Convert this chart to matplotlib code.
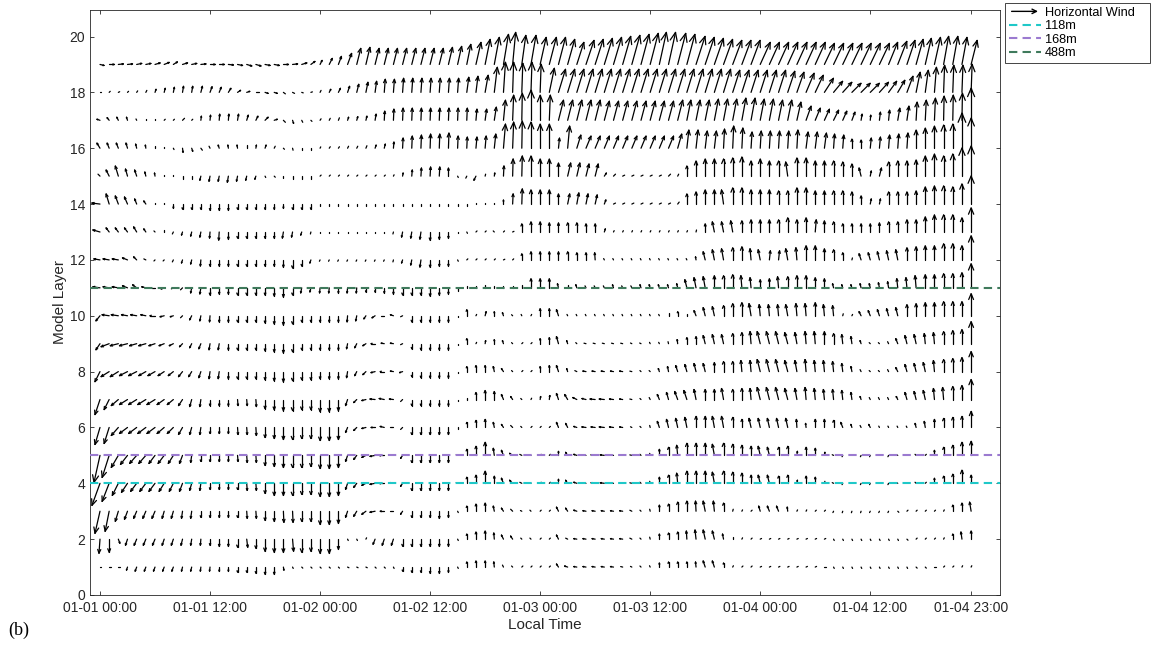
import numpy as np
import matplotlib
matplotlib.use("Agg")
import matplotlib.pyplot as plt
from matplotlib.legend_handler import HandlerBase
from matplotlib.patches import FancyArrowPatch
from matplotlib.lines import Line2D
from matplotlib.collections import LineCollection
from matplotlib.transforms import IdentityTransform

plt.rcParams['font.family'] = ['Liberation Sans', 'DejaVu Sans']

hours = np.arange(96)            # hourly steps from 01-01 00:00
layers = np.arange(1, 20)        # model layers 1..19
tick_hours = [0, 12, 24, 36, 48, 60, 72, 84, 95]
tick_labels = ['01-01 00:00', '01-01 12:00', '01-02 00:00', '01-02 12:00',
               '01-03 00:00', '01-03 12:00', '01-04 00:00', '01-04 12:00',
               '01-04 23:00']
level_names = ['118m', '168m', '488m']
level_layers = [4, 5, 11]
level_colors = ['#1fc8c8', '#9b7ad0', '#3f7a5c']

# horizontal wind (east u, north v) per layer
u_wind = [
    # layer 1
    [0.5, 1, 2, -1, -1.5, -1.5, -1.5, -1.5, -1.5, -1, -1, -0.5, -0.5, 0, 0, 0, 0, 0, 0, 0, 0.5, 0.5, 0.5, 0.5,
     0.5, 0.5, 0.5, 1, 1, 1, 1, 1, 0.5, 0, 0, 0, 0, 0, 0, 0.5, 0, 0, 0, -0.5, -1, -1, 0.5, 0.5,
     0.5, 0.5, -2, -3, -3, -3, -3, -3, -3, -2, -1, -0.5, -0.5, 0, 0, 0, 0, -0.5, -2, -2, 0, 0.5, 0.5, 0.5,
     1, 1, 1, 1, 1, 1, 1, 1, 0.5, 0.5, 0.5, 0.5, 0.5, 0.5, 0.5, 0.5, 0.5, 0.5, 0.5, 0.5, 0.5, 0.5, 0.5, 0.5],
    # layer 2
    [-1, 0, 1.5, -2, -2.5, -2.5, -2.5, -2, -2, -1.5, -1, -0.5, 0, 0, 0, 0, 1, 0, 0, 0, 0, 1, 0, 0,
     0, 0, 0, 0.5, 0.5, 0.5, -2, -2, -2, 0, 0, 0, 0, 0, 0, 0.5, 0, 0, 0, -0.5, -2, -2, -1, -0.5,
     0.5, 0.5, -2, -2, -3, -3, -3, -3, -3, -3, -2, -1, -0.5, 0, 0, 0, -0.5, -1, -2, -2, -1, 0, 0.5, 0.5,
     1, 1, 1, 1, 1, 1, 1, 1, 0.5, 0.5, 0.5, 0.5, 0.5, 0.5, 0.5, 0.5, 0.5, 0.5, 0.5, 0.5, 0.5, 0, -1, 0],
    # layer 3
    [-5, -4, -3, -3, -3, -3, -3, -2, -2, -1, -1, 0, 0, 0, 0, 0, 0.5, 0.5, 0, 0, 0.5, 0.5, 0, 0,
     0, 0, 0, -2, -3, -4, -5, -4, -3, -2, 0, 0, 0, 0, 0, 0.5, 0, 0, 0, -1, -2, -2, -1, -0.5,
     0.5, 0.5, -2, -2, -3, -3, -3, -3, -3, -3, -2, -1, -0.5, 0, 0, 0, 0, -0.5, -2, -1, 0, 0.5, 0.5, 0.5,
     -1.5, -2, -2, -0.5, 0.5, 0.5, 0.5, 0.5, -0.5, -0.5, -0.5, -0.5, -0.5, -0.5, -0.5, 0.5, 0.5, 0.5, 0.5, 0.5, 0.5, 0, 0, -1.5],
    # layer 4
    [-8, -7, -6, -6, -6, -6, -6, -5, -4, -3, -2, -1, 0, 0, 0, 0, 0.5, 0.5, 0, 0, 0, 0, 0, 0,
     0, 0, 0, -2, -3, -4, -5, -5, -4, -2, 0, 0, 0, 0, 0, -1, 0, 0, 0, 0, -2, -3, -2, -1,
     0.5, 0.5, 0, -2, -3, -3, -4, -4, -3, -3, -2, -1, -0.5, 0, 0, -1, 0, 0, 0, -2, 0, 0, 0, 0,
     -2, -2, 0, 0, 0.5, 0, 0, 0.5, -1, -0.5, -1, -0.5, -0.5, -1, -0.5, -1, -1, -0.5, 0.5, 0, 0, 0, 0, 0],
    # layer 5
    [-6, -7, -7, -7, -7, -7, -6, -6, -5, -3, -1, 0, 0, 0, 0, 0.5, 0.5, 0.5, 0, 0, 0, 0, 0, 0,
     0, 0, 0, -2, -3, -4, -5, -5, -4, -2, 0, 0, 0, 0, 0, -1, 0, 0, 0, -1, -2, -3, -2, -1,
     0.5, 0.5, 0, -2, -3, -3, -4, -4, -3, -3, -2, -1, -0.5, 0, 0, -1, 0, 0, 0, -2, 0, 0, 0, 0,
     -2, -2, 0, 0, 0.5, 0, 0, 0.5, -1, -0.5, -1, -0.5, -0.5, -1, -0.5, -1, -1, -0.5, 0.5, 0, 0, 0, 0, 0],
    # layer 6
    [-5, -5, -7, -8, -8, -8, -8, -7, -6, -4, -2, -1, 0, 0, 0, 0.5, 0.5, 0.5, 0, 0, 0, 0, 0, 0,
     0, 0, 0, -2, -3, -4, -4, -4, -3, -2, 0, 0, 0, 0, 0, 0, 0, 0, 0, -1, -2, -2, -1, 0.5,
     0.5, 0.5, -2, -2, -3, -4, -4, -5, -4, -3, -1, -1, -0.5, -2, -2, -2, -2, 0, 0, -2, -2, 0, 0, -2,
     -2, -2, -2, -2, -0.5, -0.5, 0, 0, 0, -2, -1, -1, -1.5, -0.5, -0.5, -0.5, -0.5, -1, -1, 0, 0, 0, 0, 0],
    # layer 7
    [-5, -5, -7, -8, -8, -8, -8, -7, -6, -4, -2, -1, 0, 0, 0, 0.5, 0.5, 0.5, 0, 0, 0, 0, 0, 0,
     0, 0, 0, -2, -3, -4, -5, -5, -4, -2, 0, 0, 0, 0, 0, 0, 0, 0, 0, 0, -2, -2, -1, 0.5,
     0.5, 0.5, -2, -3, -4, -4, -5, -5, -4, -3, -2, -1, -1, -2, -2, -3, -3, -2, 0, 0, -2, 0, 0, -1,
     -3, -3, -3, -3, -2, -1, -1, -1, -1, -1, -1, -1, -1, -1, -1, -1.5, -2, -2, -2, -1, -1, 0, 0, 0],
    # layer 8
    [-5, -8, -8, -8, -8, -7, -7, -6, -5, -4, -3, -2, -1, -1, 0, 0, 0, 0, 0, 0, 0, 0, 0, 0,
     0, 0, 0, -1, -2, -3, -4, -4, -3, -3, 0, 0, 0, 0, 0, 0, 0, 0, 0, -1, -2, -1, 0.5, 0.5,
     0, 0, -2, -1, -2, -3, -3, -3, -3, -3, -2, -1, -1, -1, -1, -2, -2, -2, -2, 0, 0, 0, -1, -1,
     -3, -3, -3, -3, -2, -1, -1, -1, -1, -1, -1, -1, -1, -1, -1, -2, -2, -2, -2, -1, 0, 0, 0, 0],
    # layer 9
    [-4, -8, -8, -8, -7, -7, -6, -5, -4, -3, -2, -2, -1, -1, 0, 0, 0, 0, 0, 0, 0, 0, 0, 0,
     0, 0, 0, -1, -2, -3, -4, -3, -3, -2, 0, 0, 0, 0, 0, 0, 0, 0.5, 0.5, 0, -1, -1, 0.5, 0.5,
     0, 0, -2, -1, -1, -2, -2, -2, -2, -2, -1, -1, -0.5, -0.5, -0.5, -0.5, 0, 0, -2, -2, -2, 0, 0, -1,
     -3, -3, -3, -3, -2, -1, -1, 0, 0, -1, -1, -1, -1, -1, -1, -2, -2, -2, -1, -1, 0, 0, 0, 0],
    # layer 10
    [-4, -7, -7, -6, -6, -5, -5, -4, -3, -2, -2, -1, -0.5, 0, 0, 0, 0, 0, 0, 0, 0, 0, 0, 0,
     0, 0, 0, -0.5, -1, -2, -3, -3, -3, -2, 0, 0, 0, 0, 0, 0, 0, 0.5, 1, 0, -1, -1, -0.5, 0.5,
     0, 0, -2, -0.5, -0.5, -0.5, -0.5, -0.5, -0.5, -0.5, -0.5, -0.5, -0.5, -0.5, 0, 0, 0, -2, -2, -2, 0, 0, 0, -2,
     -1, -1, -1, -2, -1, -1, 0, -1, -1, 0.5, 0.5, -2, -2, -2, -2, -2, 0, 0, 0, 0, 0, 0, 0, 0],
    # layer 11
    [-7, -6, -6, -5, -4, -4, -3, -3, -2, -2, -1, -1, 0, 0, 0, 0, 0, 0, 0, 0, 0, 0, -1, -1,
     -0.5, -0.5, 0, -0.5, -0.5, 0, 0, 0, 0, 0, 0, 0, 0, 0, 0, 0, 0, 0, 0, 0, 0, 0, 0, 0,
     0, 0, -1, 0, -1, -1, -1, -1, -1, -1, -1, -1, -1, -1, -1, -1, -2, -2, -2, 0, 0, 0, -1, -1,
     0, 0, -1, 0, 0, 0, 0, 0, -1, -1, -1, -1, -1, -1, -1, -1, -1, -1, 0, 0, 0, 0, 0, 0],
    # layer 12
    [-6, -6, -6, -5, -3, -2, -1, -1, -1, -1, -1, -0.5, 0, 0, 0, 0, 0, 0, 0, 0, 0, 0, 0, -1,
     -0.5, -0.5, -0.5, -0.5, -0.5, -0.5, -0.5, -0.5, -0.5, -1, -1, -1, 0, 0, 0, 0.5, 0.5, 0.5, 0.5, 0.5, 1, 0.5, 0, 0,
     0, 0, 0, 0, 0, 0, -0.5, -0.5, -0.5, -0.5, -0.5, -0.5, -0.5, -0.5, -0.5, -0.5, -0.5, -0.5, -2, -2, -2, 0, 0, -1,
     -2, 1, 1, -2, -1, 0, 0, 0, 0, 0, 0.5, -2, -2, -2, -2, -2, 0, 0, 0, 0, 0, 0, 0, 0],
    # layer 13
    [-7, -3, -3, -3, -3, -2, -1, 0, -1, -1, -1, -1, -0.5, -0.5, 0, 0, 0, 0, 0, 0, -1, -1, -1, -0.5,
     0, 0, 0, 0, 0, 0, 0, 0, -0.5, -1, -1, -1, 0, 0, 0, 0, 0.5, 0.5, 0.5, -1, 0.5, 1, 0, 0,
     0, 0, 0, 0, 0, 0, 0, 1, 0.5, 0.5, 0.5, 0.5, 0.5, 0.5, 0.5, 0.5, 0.5, 0.5, 0, -2, -2, -2, 0, 0,
     0, 0, 0, 0, 0, 0, 1, 0, 0, 0, 0, 0, 0, 0, 0, 0, 0, 0, 0, 0, 0, 0, 0, 0],
    # layer 14
    [-8, -3, -3, -3, -2, -2, 0, 0, 0, 0, 0, 0, 0, 0, 0, 0, 0, 0, 0, 0, 0, 0, 0, 0,
     0, 0, 0, 0, 0, 0, 0, 0, 0, 0, 0, 0, 0, 0, 0, 0, 0, 0, 0, 0, 0, 0.5, 0.5, 0,
     0, 0, 0, 2, 2, 2, 2, 1.5, 2, 2, 2, 2, 2, 2, 2, 1.5, 0, 0, 0, 0, -2, 0, 0, 0,
     0, 0, 0, 0, 0, 0, 0, 0, 0, 0, 0, 0, 1, 1, 0, 0, 0, 0, 0, 0, 0, 0, 0, 0],
    # layer 15
    [-2, -3, -3, -2, -2, -1, -0.5, 0, 0, 0, 0, -1, -1, -1, -1, -1, -1, -1, 0.5, 0.5, 0, 0, 0, 0,
     0.5, 0.5, 0.5, 0.5, 0.5, 0.5, 0.5, 0.5, 0.5, 0.5, 0.5, 0.5, 0.5, 0.5, 0, 0.5, -1, -2, 0.5, 0.5, 0.5, 0.5, 0.5, 0,
     0, 0, 0, 3, 3, 3, 3, 2, 2, 2, 2, 2, 2, 2, 2, 1, 0, 0, 0, 0, 0, 0, 0, 0,
     0, 0, 0, -2, 0, 0, 0, 0, 0, 0, 0, -2, 1, 2, 0, 0, 0, 0, 0, 0, 0, 0, 0, 0],
    # layer 16
    [-3, -2, -2, -1.5, -1, -0.5, 0, 0, 0.5, 0.5, 1, 1.5, -1, -1, -0.5, -0.5, 0, 0.5, 1, 1, 1, 0.5, 0, 0,
     0.5, 1, 1, 1, 1, 1, 1, 1, 0.5, 0.5, 0.5, 0.5, 0.5, 0.5, 0.5, 0.5, 0.5, 1, 1, 1.5, 2, 1, 0.5, 0,
     0, 0, 1, 2, 4, 5, 5, 5, 5, 5, 5, 5, 5, 5, 5, 4, 2, 2, 2, 2, 1, 1, 1, 1,
     1, 1, 1, 1, 1, 2, 2, 2, 1, 1, 0, 0, 1, 1, 1, 1, 1, 0, 0, 0, 0, 0, 0, 0],
    # layer 17
    [-3, -2, -1.5, -1, -0.5, 0, 0, 0.5, 1, 2, 1, 0.5, 0.5, 0.5, 0.5, 1, 1.5, 2, 3, 3, 2, 1, 1, 1,
     1, 1, 1, 1, 1, 1, 1, 0.5, 0.5, 0.5, 0.5, 0.5, 0.5, 0.5, 0.5, 0.5, 0.5, 1, 1.5, 2, 2, 1, 0.5, 0,
     0, 1, 5, 5, 5, 5, 5, 5, 5, 5, 5, 5, 5, 5, 5, 5, 4, 4, 4, 4, 4, 4, 4, 4,
     4, 4, 4, 4, 4, 5, 5, 5, 5, 4, 3, 1, 0.5, 1, 1, 2, 2, 1, 1, 1, 0.5, 0.5, 0.5, 0],
    # layer 18
    [1, 0.5, 1, 1, 1, 1, 1, 1, 1, 1, 1, 1.5, 2, 2, 2.5, 3, 3, 3, 3, 3, 2, 2, 1.5, 1.5,
     1, 1.5, 2, 2, 2, 2, 1.5, 1, 1, 1, 1, 1, 1, 1, 1, 1, 2, 2, 3, 3, 2, 1, 1, 1,
     1, 5, 7, 7, 7, 7, 7, 7, 7, 7, 7, 7, 7, 7, 7, 7, 7, 7, 7, 7, 7, 7, 7, 7,
     7, 7, 7, 7, 7, 8, 8, 9, 9, 9, 9, 9, 9, 9, 8, 7, 6, 4, 3, 2, 1, 1, 1, 1],
    # layer 19
    [4, 5, 5, 5, 5, 5, 5, 5, 4, 5, 5, 5, 5, 5, 5, 5, 5, 5, 5, 5, 5, 5, 5, 4,
     2, 3, 3, 4, 4, 4, 4, 4, 4, 4, 4, 4, 4, 4, 4, 4, 4, 5, 5, 5, 5, 3, 4, 5,
     6, 7, 7, 7, 7, 8, 8, 8, 8, 8, 8, 8, 8, 7, 7, 8, 8, 9, 9, 9, 9, 9, 9, 9,
     10, 10, 10, 10, 10, 10, 10, 10, 10, 10, 10, 10, 10, 10, 9, 9, 8, 7, 6, 6, 5, 5, 5, 6],
]

v_wind = [
    # layer 1
    [0, 0, 0, -3, -4, -4, -4, -4, -4, -4, -4, -4, -4, -4, -4, -5, -5, -6, -7, -7, -3, -1, -0.5, -0.5,
     -0.5, -0.5, -0.5, -0.5, -0.5, -0.5, -1, -1, -1, -4, -5, -5, -6, -6, -5, -1, 5, 6, 6, 5, 2, 1, 0.5, 0.5,
     0.5, 0.5, 3, 1, 0.5, 0.5, 0.5, 0.5, 0.5, 0.5, 0.5, 0.5, 1, 4, 5, 5, 5, 5, 6, 6, 4, 1, 0.5, 0.5,
     0.5, 0.5, 0.5, 0.5, 0.5, 0.5, 0.5, 0, -1, -1, -1, -1, -1, -1, -1, -1, -1, -0.5, -0.5, 0, 0.5, 0.5, 1, 1],
    # layer 2
    [-14, -13, -4, -6, -6, -6, -6, -6, -6, -6, -6, -6, -6, -7, -7, -8, -8, -9, -12, -13, -13, -12, -13, -12,
     -14, -14, -10, -1, -1, 1, -5, -6, -6, -7, -7, -7, -7, -7, -7, -1, 5, 7, 8, 6, 4, 3, 1, 0.5,
     0.5, 0.5, 4, 1, 0.5, 0.5, 0.5, 0.5, 0.5, 0.5, 1, 1, 2, 5, 6, 7, 8, 9, 9, 8, 5, 2, 1, 0.5,
     0.5, 0.5, 0.5, 0.5, 0.5, 0.5, 0.5, 0.5, -1, -1, -1, -1, -1, -1, -1, -1, -0.5, 0.5, 0.5, 0.5, 1, 5, 7, 8],
    # layer 3
    [-22, -20, -10, -8, -7, -7, -7, -7, -7, -7, -7, -6, -6, -6, -6, -6, -7, -7, -9, -10, -11, -11, -10, -10,
     -13, -13, -12, -6, -5, -3, -1, 0, 0, -3, -6, -6, -6, -7, -6, -1, 5, 7, 8, 5, 3, 2, 0.5, 0.5,
     0.5, 0.5, 4, 3, 1, 0.5, 0.5, 0.5, 0.5, 0.5, 1, 1, 2, 6, 7, 9, 10, 10, 10, 10, 8, 2, 1, 0.5,
     5, 5, 5, 4, 1, 1, 0.5, 0.5, -1, -1.5, -1.5, -1.5, -1, -1, -1, -0.5, 0.5, 0.5, 0.5, 0.5, 1, 6, 8, 9],
    # layer 4
    [-22, -18, -12, -9, -8, -8, -8, -8, -8, -8, -7, -7, -6, -6, -6, -6, -7, -7, -10, -12, -12, -12, -11, -11,
     -13, -13, -12, -6, -4, -2, -1, 0, 0.5, -3, -7, -7, -7, -7, -7, 0.5, 6, 8, 12, 7, 5, 3, 1, 0.5,
     0.5, 0.5, 4, 3, 1, 0.5, 0.5, 0.5, 0.5, 0.5, 0.5, 1, 2, 6, 8, 10, 12, 12, 12, 11, 12, 11, 10, 8,
     8, 8, 7, 8, 3, 7, 6, 2, 0.5, -1, 0.5, -1, -1, 0.5, -1, 0.5, 0.5, 0.5, 0.5, 5, 7, 9, 13, 8],
    # layer 5
    [-27, -22, -12, -9, -8, -8, -8, -8, -8, -8, -7, -6, -6, -6, -6, -6, -7, -7, -10, -11, -12, -12, -12, -11,
     -13, -13, -12, -6, -4, -2, -1, 0, 0.5, -3, -7, -7, -7, -7, -7, 0.5, 6, 9, 13, 7, 5, 2, 1, 0.5,
     0.5, 0.5, 4, 3, 1, 0.5, 0.5, 0.5, 0.5, 0.5, 0.5, 1, 2, 6, 8, 10, 12, 12, 12, 11, 12, 11, 10, 9,
     9, 8, 8, 9, 4, 8, 7, 3, 0.5, -1, 0.5, -1, -1, 0.5, -1, 0.5, 0.5, 0.5, 0.5, 5, 8, 10, 13, 14],
    # layer 6
    [-17, -16, -8, -6, -6, -6, -6, -6, -6, -7, -7, -7, -6, -6, -6, -7, -7, -8, -10, -11, -12, -12, -11, -11,
     -13, -13, -12, -5, -3, -1, 0, 1, 0, -2, -7, -7, -7, -7, -7, -1, 5, 7, 8, 5, 3, 2, 1, 0.5,
     0.5, 0.5, 5, 4, 1, 0.5, 0.5, 0.5, 0.5, 0.5, 0.5, 1, 2, 6, 8, 9, 10, 11, 11, 11, 11, 10, 8, 9,
     9, 9, 9, 9, 8, 4, 8, 8, 7, 5, 3, 2, 3, 1, 1, 1, 1, 4, 6, 8, 9, 10, 11, 16],
    # layer 7
    [-15, -10, -6, -5, -5, -5, -5, -5, -5, -6, -7, -7, -6, -6, -6, -6, -6, -7, -9, -10, -11, -11, -10, -10,
     -12, -12, -11, -6, -3, -1, 0.5, 1, 0.5, -2, -6, -6, -6, -6, -6, -1, 2, 7, 9, 8, 5, 3, 1, 1,
     3, 4, 6, 5, 2, 1, 0.5, 0.5, 0.5, 0.5, 0.5, 1, 2, 5, 7, 8, 9, 10, 10, 10, 11, 10, 11, 11,
     12, 12, 12, 11, 11, 12, 11, 10, 10, 9, 7, 3, 2, 2, 2, 3, 7, 8, 9, 11, 12, 13, 14, 20],
    # layer 8
    [-10, -5, -5, -4, -4, -4, -4, -4, -4, -5, -5, -6, -7, -7, -7, -7, -7, -7, -8, -9, -10, -9, -8, -8,
     -7, -7, -7, -6, -4, -3, -1, 0, 0.5, -1, -5, -6, -6, -6, -6, -1, 5, 6, 6, 5, 3, 1, 0.5, 0.5,
     5, 6, 6, 3, 1, 0.5, 0.5, 0.5, 0.5, 0.5, 0.5, 1, 1, 3, 5, 6, 7, 8, 8, 9, 10, 10, 11, 11,
     12, 12, 12, 11, 11, 12, 11, 11, 10, 8, 5, 2, 1, 1, 2, 4, 7, 8, 9, 11, 12, 13, 14, 20],
    # layer 9
    [-6, -3, -2, -2, -2, -2, -2, -2, -2, -3, -4, -5, -6, -6, -6, -6, -6, -6, -7, -8, -9, -8, -6, -6,
     -6, -6, -6, -5, -4, -2, 0, 0.5, 0.5, -1, -5, -6, -6, -6, -6, -1, 5, 1, 3, 4, 3, 1, 0.5, 0.5,
     5, 6, 7, 3, 1, 0.5, 0.5, 0.5, 0.5, 0.5, 0.5, 0.5, 1, 1, 2, 4, 6, 7, 8, 9, 9, 10, 11, 12,
     12, 12, 12, 11, 11, 12, 12, 12, 10, 9, 7, 3, 1, 1, 2, 5, 8, 9, 10, 11, 12, 13, 14, 22],
    # layer 10
    [-5, 1, 1, 1, 1, 1, 0, -1, -1, -2, -4, -5, -6, -6, -6, -6, -6, -6, -7, -8, -9, -8, -6, -6,
     -6, -6, -6, -6, -5, -3, -2, 0, 1, -1, -6, -6, -6, -6, -6, -1, 6, 1, 4, 4, 3, 1, 1, 1,
     7, 7, 6, 1, 1, 1, 1, 1, 1, 1, 1, 1, 1, 1, 3, 4, 2, 5, 8, 9, 10, 12, 13, 12,
     11, 11, 11, 11, 12, 12, 13, 11, 10, 2, 1, 4, 5, 6, 7, 8, 11, 12, 13, 13, 14, 14, 14, 22],
    # layer 11
    [1, 1, 1, 2, 3, 1, 0, -1, -1, -2, -5, -6, -7, -6, -6, -7, -7, -7, -7, -8, -9, -7, -5, -4,
     -5, -5, -5, -5, -5, -4, -4, -5, -6, -7, -7, -7, -8, -7, -6, -3, 1, 1, 3, 1, 1, 2, 3, 9,
     9, 9, 4, 3, 3, 2, 2, 2, 3, 2, 2, 3, 3, 3, 3, 4, 8, 10, 11, 12, 12, 13, 12, 10,
     8, 9, 11, 11, 12, 12, 10, 9, 4, 3, 3, 4, 4, 5, 6, 9, 10, 12, 13, 13, 14, 14, 15, 24],
    # layer 12
    [1, 1, 1, 2, 3, 1, -1, -1, -2, -3, -4, -6, -6, -6, -6, -6, -6, -6, -6, -6, -7, -8, -6, -3,
     -1, -1, -1, -1, -1, -1, -1, -1, -2, -3, -5, -7, -7, -6, -6, -1, 0.5, 0.5, 0.5, 0.5, 0.5, 0.5, 6, 8,
     8, 8, 8, 8, 7, 7, 7, 1, 1, 1, 1, 1, 1, 1, 1, 1, 1, 3, 8, 10, 11, 12, 13, 11,
     10, 9, 9, 11, 12, 14, 14, 11, 10, 7, 2, 6, 7, 8, 9, 10, 12, 13, 14, 14, 16, 16, 14, 24],
    # layer 13
    [2, 4, 4, 4, 5, 3, 1, 0.5, -2, -3, -4, -5, -6, -8, -7, -6, -6, -6, -6, -6, -6, -5, -3, -2,
     -1, -1, -1, -1, -1, -1, -1, -1, -2, -5, -6, -7, -8, -7, -6, -1, -1, 0.5, 0.5, 1, 0.5, 0.5, 8, 10,
     10, 9, 9, 9, 9, 8, 8, 3, 1, 1, 1, 1, 1, 1, 1, 1, 1, 2, 8, 10, 10, 11, 11, 12,
     12, 12, 12, 14, 12, 14, 12, 11, 10, 8, 8, 8, 8, 9, 10, 10, 12, 12, 15, 17, 17, 17, 14, 24],
    # layer 14
    [1, 10, 8, 7, 5, 3, 1, 0.5, -4, -5, -5, -5, -6, -6, -6, -5, -5, -5, -5, -5, -4, -5, -5, -5,
     -1, -1, -1, -1, -1, -1, -1, -1, -1, -2, -2, -2, -2, -2, -2, -1, -1, 1, 1, 1, 4, 10, 15, 14,
     14, 14, 10, 10, 11, 10, 9, 4, 1, 1, 1, 1, 1, 1, 1, 2, 10, 12, 14, 14, 14, 16, 16, 14,
     14, 14, 13, 13, 16, 16, 13, 13, 13, 13, 12, 8, 5, 5, 12, 12, 12, 13, 17, 18, 18, 17, 20, 28],
    # layer 15
    [2, 6, 10, 7, 6, 4, 3, 1, 0.5, -3, -3, -4, -5, -5, -6, -5, -4, -3, -1, -0.5, -1, -3, -3, -3,
     0.5, 0.5, 0.5, 0.5, 0.5, 0.5, 0.5, 0.5, 1, 3, 6, 8, 9, 9, 8, -1, -2, -4, 2, 3, 10, 17, 20, 20,
     17, 17, 13, 13, 13, 12, 12, 3, 2, 1, 1, 1, 1, 1, 2, 2, 10, 15, 17, 17, 17, 18, 19, 15,
     17, 15, 15, 14, 18, 18, 15, 15, 15, 14, 12, 8, 5, 8, 14, 15, 15, 16, 20, 22, 20, 22, 28, 30],
    # layer 16
    [5, 5, 5, 5, 4, 3, 2, 0.5, -1, -4, -3, -2, 2, 3, 3, 3, 3, 3, 3, 2, -1, -2, -2, -1,
     1, 1.5, 1.5, 2, 2, 2.5, 3, 4, 6, 10, 12, 13, 14, 14, 15, 12, 11, 11, 12, 14, 24, 26, 27, 26,
     24, 24, 10, 22, 13, 12, 12, 12, 12, 12, 12, 12, 12, 12, 12, 14, 18, 18, 17, 17, 19, 22, 20, 16,
     17, 17, 17, 17, 18, 16, 16, 15, 14, 13, 9, 8, 10, 11, 13, 14, 15, 18, 20, 22, 23, 24, 35, 30],
    # layer 17
    [1, 2.5, 3, 3, 1, 0.5, 0.5, 0.5, 1, 2, 1, 4, 5, 6, 6, 6, 5, 4, 3, 1, -2, -3, -2, -1,
     1.5, 2, 2.5, 3, 3.5, 4, 6, 9, 11, 12, 12, 12, 12, 12, 12, 12, 12, 11, 11, 13, 20, 25, 27, 30,
     25, 25, 20, 20, 20, 20, 20, 19, 19, 19, 19, 19, 19, 19, 19, 20, 20, 20, 20, 21, 21, 21, 22, 22,
     21, 21, 20, 20, 18, 14, 12, 11, 10, 9, 8, 6, 5, 8, 10, 12, 14, 18, 20, 22, 24, 25, 27, 32],
    # layer 18
    [0, 0.5, 0.5, 1, 1.5, 2, 3, 4, 5, 6, 6, 6, 5.5, 5, 4, 2, 1, 0, -1, -1, -1.5, -1, -0.5, 0.5,
     2, 3, 4, 6, 8, 10, 11, 13, 13, 14, 14, 14, 14, 14, 14, 14, 15, 16, 17, 25, 30, 30, 29, 30,
     28, 24, 23, 23, 23, 23, 23, 23, 23, 23, 23, 23, 23, 23, 23, 23, 23, 23, 23, 23, 23, 22, 22, 22,
     22, 22, 22, 21, 20, 19, 17, 14, 11, 10, 9, 9, 9, 10, 11, 12, 16, 20, 22, 25, 27, 27, 27, 28],
    # layer 19
    [-1, 0, 0.5, 0.5, 1, 1, 1.5, 2, 2.5, 1.5, 1, 0.5, 0, 0, -0.5, -1, -1.5, -1.5, -1, -1, 0, 0.5, 1.5, 3,
     4, 6, 8, 11, 16, 17, 16, 16, 16, 16, 16, 16, 16, 16, 17, 18, 20, 22, 25, 27, 30, 32, 29, 29,
     27, 27, 27, 25, 22, 24, 25, 26, 27, 28, 29, 30, 31, 32, 32, 31, 30, 28, 27, 26, 25, 24, 24, 24,
     22, 22, 22, 22, 22, 22, 22, 21, 21, 21, 21, 21, 21, 21, 22, 23, 24, 25, 26, 27, 28, 28, 27, 24],
]

U = np.array(u_wind, dtype=float)
V = np.array(v_wind, dtype=float)
assert U.shape == (19, 96) and V.shape == (19, 96), (U.shape, V.shape)
X, Y = np.meshgrid(hours, layers)


class ArrowHandler(HandlerBase):
    def create_artists(self, legend, orig_handle, xdescent, ydescent,
                       width, height, fontsize, trans):
        y0 = -ydescent + height / 2
        arr = FancyArrowPatch((-xdescent, y0), (-xdescent + width, y0),
                              arrowstyle='->', mutation_scale=8, lw=1.0,
                              color='black', transform=trans)
        return [arr]


fig = plt.figure(figsize=(11.53, 6.45), dpi=100)
ax = fig.add_axes([90 / 1153, 50 / 645, 910 / 1153, 585 / 645])
ax.set_xlim(-1.09, 98.15)
ax.set_ylim(0, 20.95)

# arrows drawn like MATLAB quiver: a shaft plus an open head,
# wind given in screen pixels (1 m/s -> 1 px)
base = ax.transData.transform(np.column_stack([X.ravel(), Y.ravel()]))
du, dv = U.ravel(), V.ravel()
L = np.hypot(du, dv)
Ls = np.where(L > 0, L, 1.0)
dirx = np.where(L > 0, du / Ls, 1.0)
diry = np.where(L > 0, dv / Ls, 0.0)
Ld = np.maximum(L, 1.5)          # near-calm arrows still show as a dot
tip = base + np.column_stack([dirx * Ld, diry * Ld])
hl = 0.26 * L
hw = 0.11 * L
back = tip - np.column_stack([dirx * hl, diry * hl])
perp = np.column_stack([-diry * hw, dirx * hw])
segs = []
for i in range(len(L)):
    segs.append([base[i], tip[i]])
    if L[i] > 3:
        segs.append([tip[i], back[i] + perp[i]])
        segs.append([tip[i], back[i] - perp[i]])
lc = LineCollection(segs, colors='black', linewidths=0.9, capstyle='round',
                    transform=IdentityTransform(), zorder=2)
ax.add_collection(lc)

level_handles = []
for name, lay, col in zip(level_names, level_layers, level_colors):
    ln = ax.axhline(lay, color=col, lw=1.5, linestyle=(0, (4, 2.5)),
                    zorder=3, label=name)
    level_handles.append(ln)

ax.set_xticks(tick_hours)
ax.set_xticklabels(tick_labels)
ax.set_yticks(np.arange(0, 21, 2))
ax.tick_params(direction='in', length=3, width=0.6, top=True, right=True,
               labelsize=10, colors='#262626')
ax.tick_params(axis='x', pad=4.5)
for sp in ax.spines.values():
    sp.set_linewidth(0.6)
    sp.set_color('#262626')
ax.set_xlabel('Local Time', fontsize=11, color='#262626', labelpad=2)
ax.set_ylabel('Model Layer', fontsize=11, color='#262626', labelpad=2)

arrow_handle = Line2D([], [], color='black')
leg = fig.legend([arrow_handle] + level_handles,
                 ['Horizontal Wind'] + level_names,
                 handler_map={arrow_handle: ArrowHandler()},
                 loc='upper left',
                 bbox_to_anchor=(1005 / 1153, 1 - 62 / 645, 145 / 1153, 59 / 645),
                 mode='expand', fontsize=9.2, frameon=True, fancybox=False,
                 framealpha=1, edgecolor='#262626', handlelength=2.5,
                 handletextpad=0.3, labelspacing=0.12, borderpad=0.3,
                 borderaxespad=0)
leg.get_frame().set_linewidth(0.6)

fig.text(8 / 1153, 1 - 630 / 645, '(b)', fontsize=13, family='Liberation Serif',
         va='center', ha='left')

fig.savefig('out.png', dpi=100)
